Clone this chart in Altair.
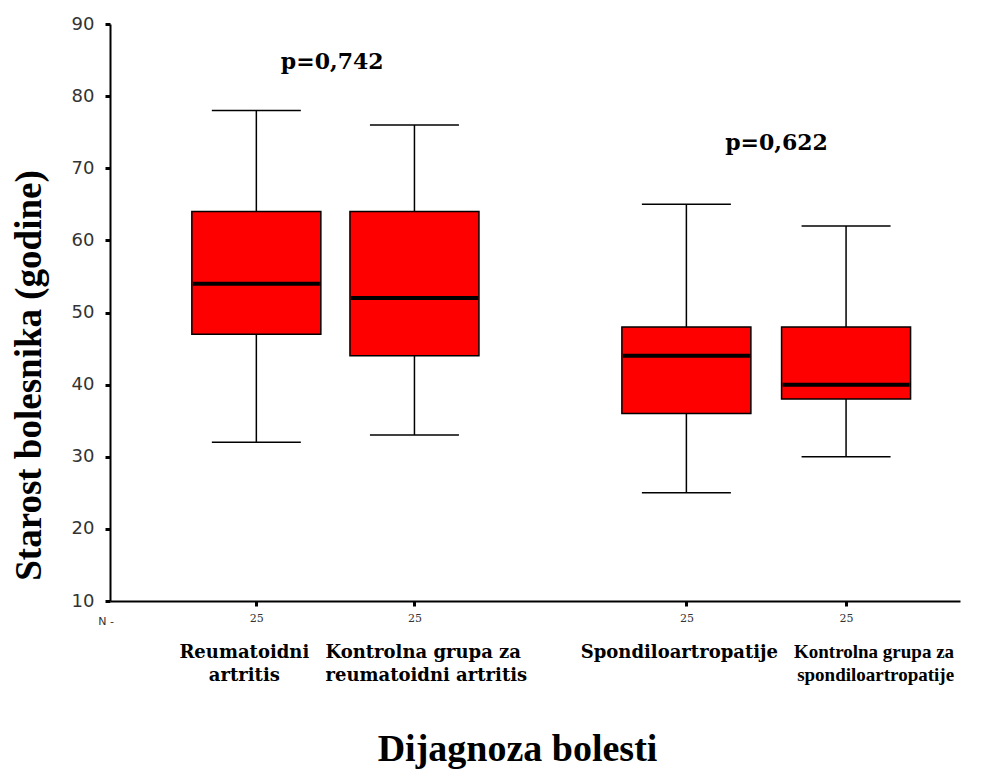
import altair as alt
import pandas as pd

# ---- data ----
groups = ["Reumatoidni artritis", "Kontrolna grupa za reumatoidni artritis",
          "Spondiloartropatije", "Kontrolna grupa za spondiloartropatije"]
group_labels = ["Reumatoidni\nartritis", "Kontrolna grupa za\nreumatoidni artritis",
                "Spondiloartropatije", "Kontrolna grupa za\nspondiloartropatije"]
positions = [1.0, 2.0, 3.72, 4.73]
n_values = [25, 25, 25, 25]
whisker_low = [32, 33, 25, 30]
q1 = [47, 44, 36, 38]
median = [54, 52, 44, 40]
q3 = [64, 64, 48, 48]
whisker_high = [78, 76, 65, 62]

p_texts = ["p=0,742", "p=0,622"]
p_x = [1.48, 4.29]
p_y = [84.7, 73.5]

# ---- styles ----
W, H = 850, 577
BOX_PX = 129
CAP_PX = 89
label_style = [
    {"dx": -12, "align": "center", "font": "DejaVu Serif", "fontSize": 18},
    {"dx": -89, "align": "left", "font": "DejaVu Serif", "fontSize": 18},
    {"dx": -7, "align": "center", "font": "DejaVu Serif", "fontSize": 18},
    {"dx": 108, "align": "right", "font": "Liberation Serif", "fontSize": 19},
]
serif = "Liberation Serif"
wide_serif = "DejaVu Serif"

df = pd.DataFrame({
    "group": groups, "label": group_labels, "pos": positions, "n": n_values,
    "low": whisker_low, "q1": q1, "median": median, "q3": q3, "high": whisker_high,
})
pdf = pd.DataFrame({"text": p_texts, "x": p_x, "y": p_y})

label_expr = " : ".join(
    [f"datum.value == {p} ? '{n}'" for p, n in zip(positions, n_values)]
) + " : ''"

xscale = alt.Scale(domain=[0.106, 5.419], nice=False, zero=False)
yscale = alt.Scale(domain=[10, 90], nice=False, zero=False)

x_enc = alt.X("pos:Q", scale=xscale, axis=alt.Axis(
    values=positions, labelExpr=label_expr, title="Dijagnoza bolesti",
    labelFont=wide_serif, labelFontSize=11, labelColor="#333333",
    labelPadding=6, tickSize=5, tickWidth=3, tickColor="black",
    domainColor="black", domainWidth=2, grid=False,
    titleFont=serif, titleFontSize=38, titleFontWeight="bold", titleColor="black",
    titleX=407, titleY=159, titleBaseline="alphabetic", titleAlign="center",
))
y_axis = alt.Axis(
    values=list(range(10, 91, 10)), title="Starost bolesnika (godine)",
    labelFont="DejaVu Sans", labelFontSize=18, labelColor="#333333",
    labelPadding=11, tickSize=5, tickWidth=3, tickColor="black",
    domainColor="black", domainWidth=2, grid=False,
    titleFont=serif, titleFontSize=37, titleFontWeight="bold", titleColor="black",
    titleX=-70, titleY=351, titleBaseline="alphabetic", titleAlign="center", titleAngle=270,
)

base = alt.Chart(df)

whisk = base.mark_rule(color="black", strokeWidth=1.5).encode(
    x=x_enc,
    y=alt.Y("low:Q", scale=yscale, axis=y_axis),
    y2="high:Q",
)
box = base.mark_bar(size=BOX_PX, color="#FF0000", stroke="black", strokeWidth=1.5).encode(
    x=alt.X("pos:Q", scale=xscale),
    y=alt.Y("q1:Q", scale=yscale),
    y2="q3:Q",
)
med = base.mark_tick(orient="horizontal", size=BOX_PX - 2, thickness=4, color="black", opacity=1).encode(
    x=alt.X("pos:Q", scale=xscale),
    y=alt.Y("median:Q", scale=yscale),
)
cap_low = base.mark_tick(orient="horizontal", size=CAP_PX, thickness=1.5, color="black", opacity=1).encode(
    x=alt.X("pos:Q", scale=xscale),
    y=alt.Y("low:Q", scale=yscale),
)
cap_high = base.mark_tick(orient="horizontal", size=CAP_PX, thickness=1.5, color="black", opacity=1).encode(
    x=alt.X("pos:Q", scale=xscale),
    y=alt.Y("high:Q", scale=yscale),
)

ptext = alt.Chart(pdf).mark_text(font=wide_serif, fontSize=22, fontWeight="bold",
                                 color="black", baseline="middle").encode(
    x=alt.X("x:Q", scale=xscale),
    y=alt.Y("y:Q", scale=yscale),
    text="text:N",
)

cat_layers = []
for g, st in zip(groups, label_style):
    cat_layers.append(
        alt.Chart(df).transform_filter(alt.datum.group == g).mark_text(
            font=st["font"], fontSize=st["fontSize"], fontWeight="bold", color="black",
            baseline="alphabetic", align=st["align"], lineBreak="\n", lineHeight=23,
            dx=st["dx"],
        ).encode(
            x=alt.X("pos:Q", scale=xscale),
            y=alt.value(H + 57),
            text="label:N",
        )
    )

n_label = alt.Chart(pd.DataFrame({"t": ["N -"]})).mark_text(
    font="DejaVu Sans", fontSize=11, color="#333333", align="center", baseline="alphabetic"
).encode(x=alt.value(-4), y=alt.value(24 + H), text="t:N")

chart = alt.layer(whisk, box, med, cap_low, cap_high, ptext, *cat_layers, n_label).properties(
    width=W, height=H,
    background="white",
    autosize=alt.AutoSizeParams(type="none"),
    padding={"left": 102, "top": 16, "right": 34, "bottom": 169},
).configure_view(strokeWidth=0, stroke=None)

chart.save("out.html", embed_options={"renderer": "svg", "actions": False})
